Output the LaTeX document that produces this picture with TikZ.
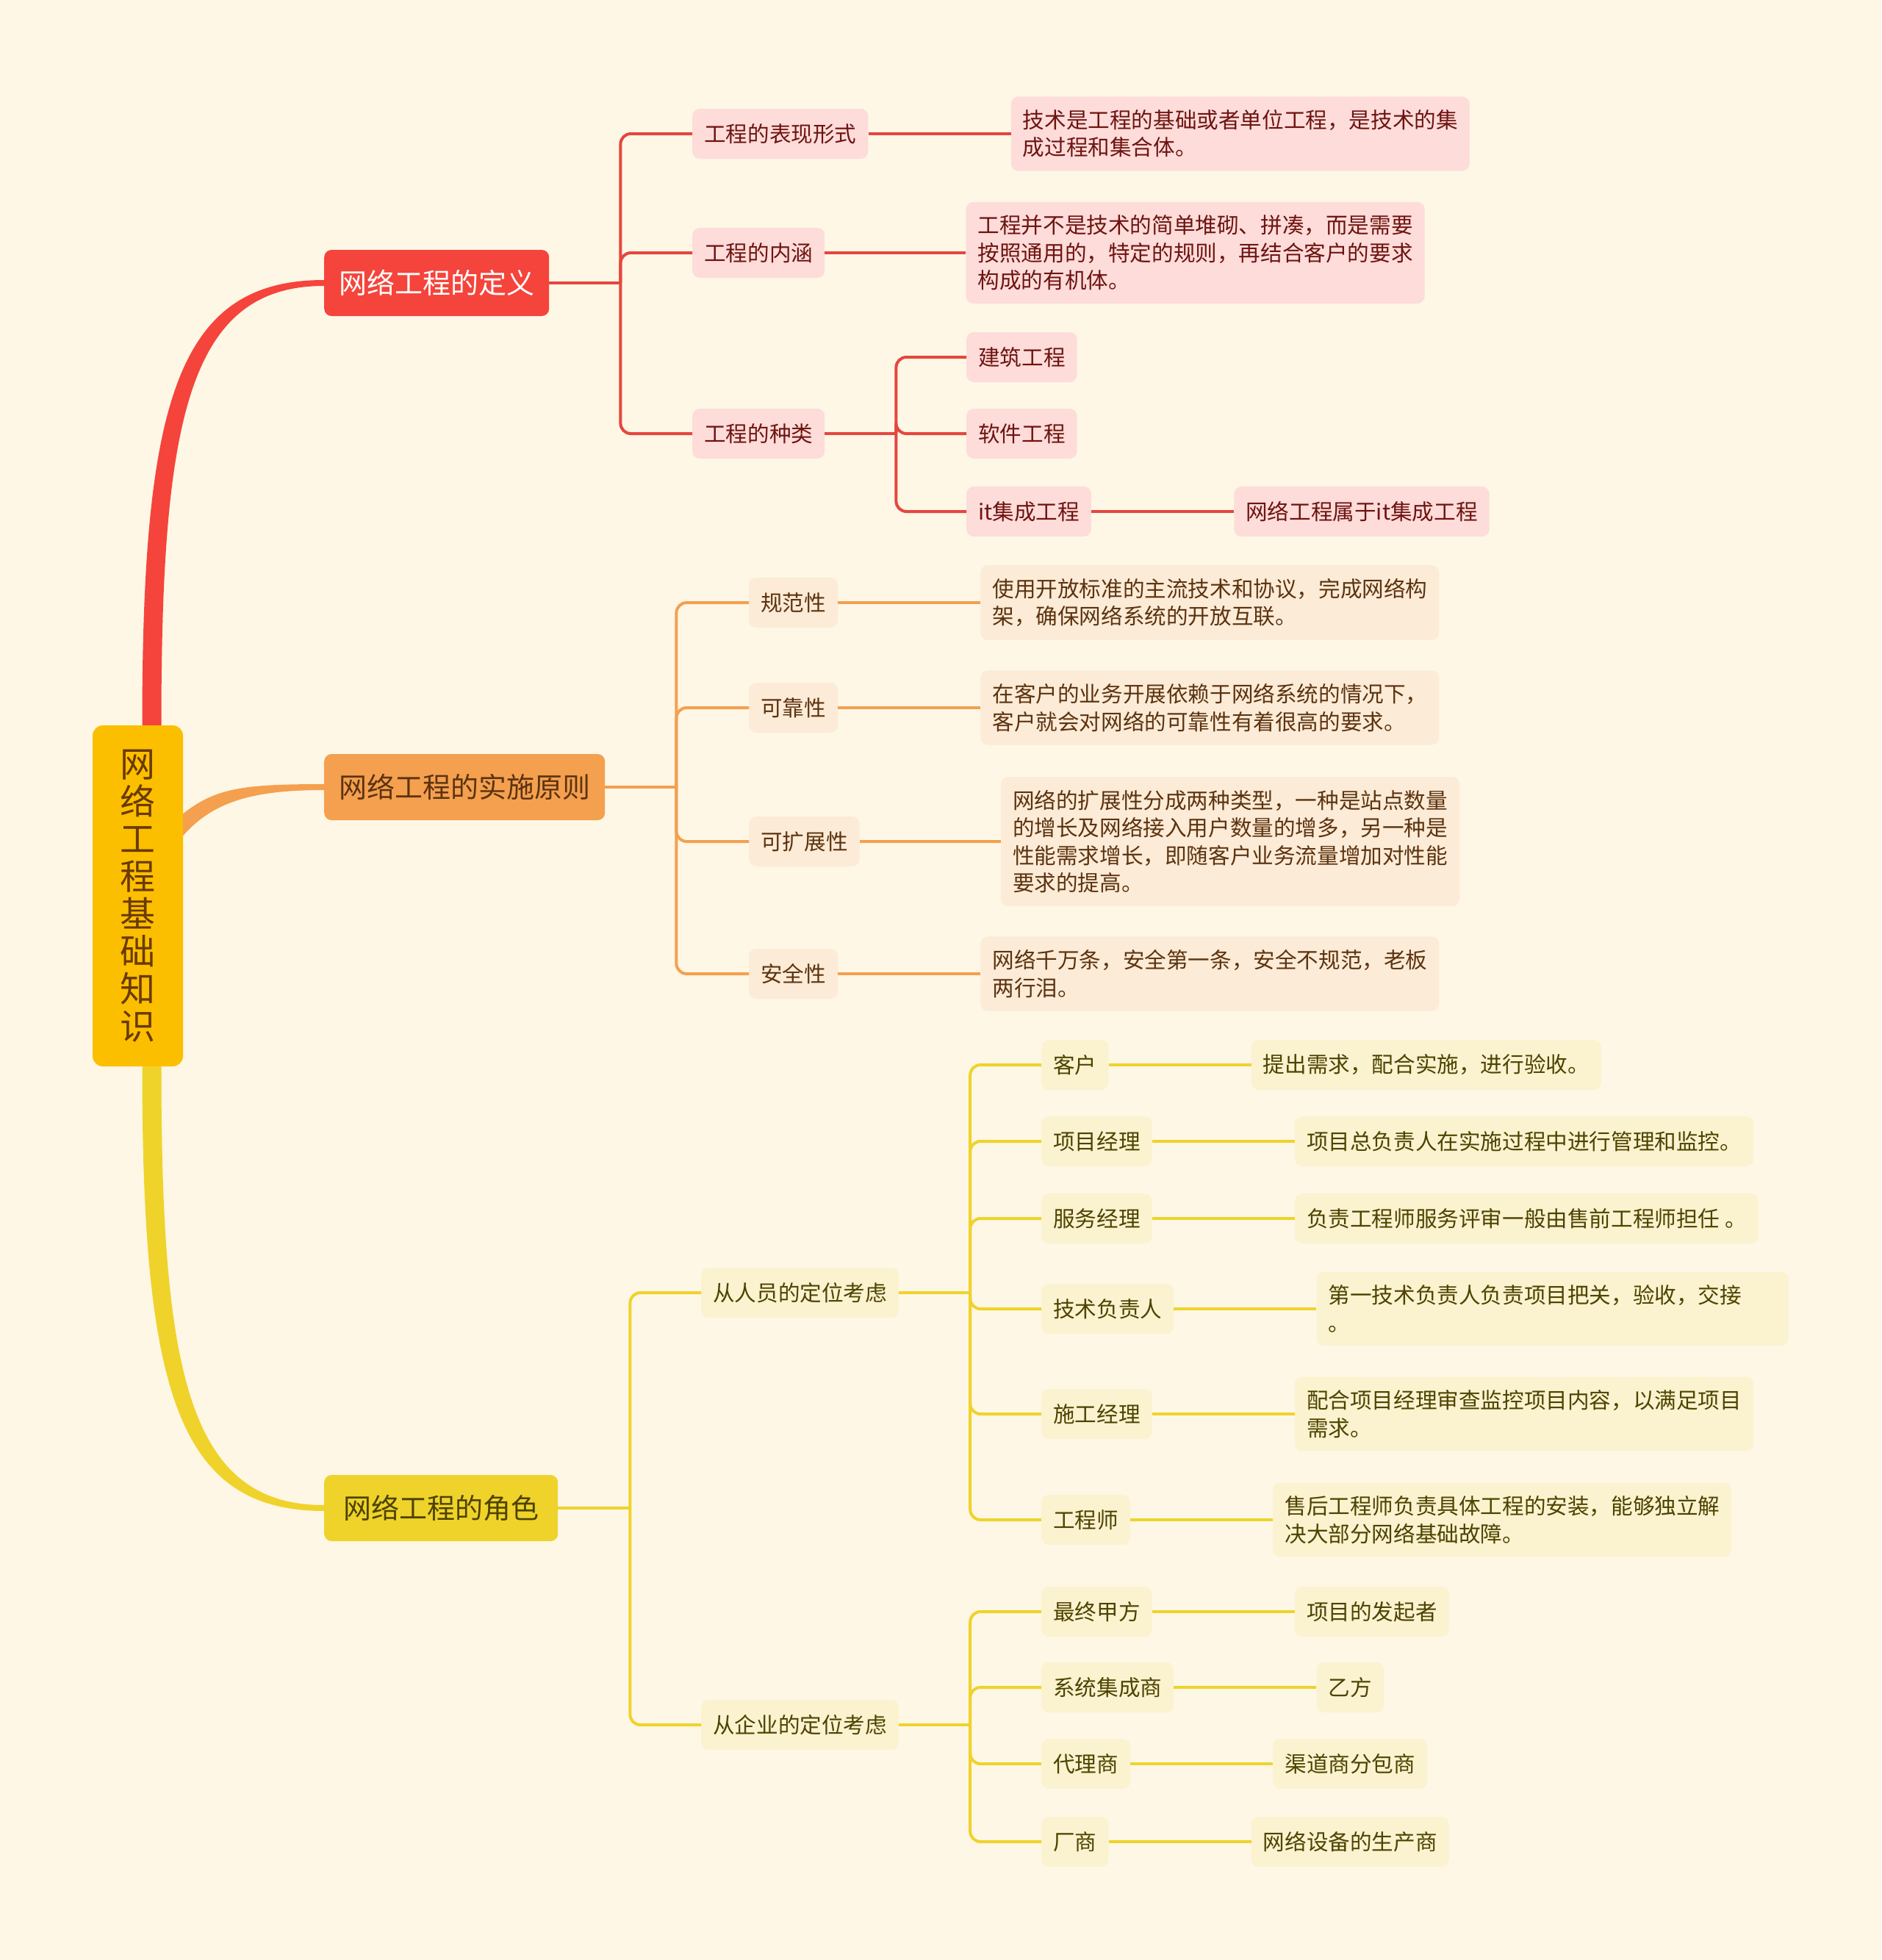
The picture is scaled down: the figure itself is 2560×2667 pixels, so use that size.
\documentclass[tikz,border=0pt]{standalone}
\usepackage{fontspec}
\setmainfont{Noto Sans CJK SC}
\usepackage{xcolor}
\usepackage{tikz}
\usetikzlibrary{positioning}
\definecolor{bgx}{HTML}{FEF7E6}
\definecolor{rootx}{HTML}{FBBF00}
\definecolor{roottxt}{HTML}{6A3A00}
\definecolor{redx}{HTML}{F5443B}
\definecolor{redln}{HTML}{E4473F}
\definecolor{redsoft}{HTML}{FDDCDA}
\definecolor{redtxt}{HTML}{6E1410}
\definecolor{orgx}{HTML}{F4A04F}
\definecolor{orgsoft}{HTML}{FCEBD6}
\definecolor{orgtxt}{HTML}{5C3310}
\definecolor{ylwx}{HTML}{EFD32B}
\definecolor{ylwsoft}{HTML}{FBF2CF}
\definecolor{ylwtxt}{HTML}{4D4300}
\tikzset{
  rootbox/.style={fill=rootx,text=roottxt,rounded corners=14pt,align=center,minimum width=123pt,minimum height=464pt,inner sep=0pt,font=\fontsize{48}{51}\selectfont},
  mainbox/.style={anchor=west,rounded corners=10pt,inner xsep=20pt,minimum height=90pt,font=\fontsize{38}{46}\selectfont},
  subbox/.style={rounded corners=10pt,inner xsep=16pt,inner ysep=18pt,minimum height=68pt,align=left,font=\fontsize{29.6}{37.4}\selectfont},
  redsub/.style={subbox,fill=redsoft,text=redtxt},
  orgsub/.style={subbox,fill=orgsoft,text=orgtxt},
  ylwsub/.style={subbox,fill=ylwsoft,text=ylwtxt},
  redlink/.style={draw=redln,line width=4pt,rounded corners=14pt},
  orglink/.style={draw=orgx,line width=4pt,rounded corners=14pt},
  ylwlink/.style={draw=ylwx,line width=4pt,rounded corners=14pt}
}

\begin{document}
\begin{tikzpicture}[x=1pt,y=-1pt]
\useasboundingbox (0,0) rectangle (2560,2667);
\fill[bgx] (0,0) rectangle (2560,2667);

% root and main branches
\node[rootbox] (root) at (187.5,1219) {网\\络\\工\\程\\基\\础\\知\\识};
\node[mainbox,fill=redx,text=white] (def) at (441,385) {网络工程的定义};
\node[mainbox,fill=orgx,text=orgtxt] (prin) at (441,1071) {网络工程的实施原则};
\node[mainbox,fill=ylwx,text=ylwtxt,minimum width=318pt,align=left] (role) at (441,2052) {网络工程的角色};

\fill[redx] ([xshift=6pt]root.north) .. controls +(0,-440) and +(-200,0) .. ([yshift=4pt]def.west)
  -- ([yshift=-4pt]def.west) .. controls +(-185,0) and +(0,-415) .. ([xshift=32pt]root.north) -- cycle;
\fill[orgx] ([yshift=112pt]root.east) .. controls +(45,-35) and +(-110,0) .. ([yshift=4pt]prin.west)
  -- ([yshift=-4pt]prin.west) .. controls +(-100,0) and +(40,-45) .. ([yshift=82pt]root.east) -- cycle;
\fill[ylwx] ([xshift=6pt]root.south) .. controls +(0,440) and +(-200,0) .. ([yshift=-4pt]role.west)
  -- ([yshift=4pt]role.west) .. controls +(-185,0) and +(0,415) .. ([xshift=32pt]root.south) -- cycle;

% definition
\node[redsub,anchor=west] (form) at (942,182) {工程的表现形式};
\node[redsub,anchor=west] (conn) at (942,344) {工程的内涵};
\node[redsub,anchor=west] (kind) at (942,590) {工程的种类};
\node[redsub,right=194pt of form] (formtxt) {技术是工程的基础或者单位工程，是技术的集\\成过程和集合体。};
\node[redsub,right=192pt of conn] (conntxt) {工程并不是技术的简单堆砌、拼凑，而是需要\\按照通用的，特定的规则，再结合客户的要求\\构成的有机体。};
\node[redsub,anchor=west] (build) at (1315,486) {建筑工程};
\node[redsub,anchor=west] (soft) at (1315,590) {软件工程};
\node[redsub,anchor=west] (itint) at (1315,696) {it集成工程};
\node[redsub,right=194pt of itint] (itnet) {网络工程属于it集成工程};

\draw[redlink] (def.east) -- ++(97,0);
\foreach \n in {form,conn,kind} \draw[redlink] ([xshift=97pt]def.east) |- (\n.west);
\draw[redlink] (form.east) -- (formtxt.west);
\draw[redlink] (conn.east) -- (conntxt.west);
\draw[redlink] (kind.east) -- ++(97,0);
\foreach \n in {build,soft,itint} \draw[redlink] ([xshift=97pt]kind.east) |- (\n.west);
\draw[redlink] (itint.east) -- (itnet.west);

% principles
\node[orgsub,anchor=west] (norm) at (1019,820) {规范性};
\node[orgsub,anchor=west] (rely) at (1019,963) {可靠性};
\node[orgsub,anchor=west] (scal) at (1019,1145) {可扩展性};
\node[orgsub,anchor=west] (safe) at (1019,1325) {安全性};
\node[orgsub,right=194pt of norm] (normtxt) {使用开放标准的主流技术和协议，完成网络构\\架，确保网络系统的开放互联。};
\node[orgsub,right=194pt of rely] (relytxt) {在客户的业务开展依赖于网络系统的情况下，\\客户就会对网络的可靠性有着很高的要求。};
\node[orgsub,right=192pt of scal] (scaltxt) {网络的扩展性分成两种类型，一种是站点数量\\的增长及网络接入用户数量的增多，另一种是\\性能需求增长，即随客户业务流量增加对性能\\要求的提高。};
\node[orgsub,right=194pt of safe] (safetxt) {网络千万条，安全第一条，安全不规范，老板\\两行泪。};

\draw[orglink] (prin.east) -- ++(97,0);
\foreach \n in {norm,rely,scal,safe} {
  \draw[orglink] ([xshift=97pt]prin.east) |- (\n.west);
  \draw[orglink] (\n.east) -- (\n txt.west);
}

% roles
\node[ylwsub,anchor=west] (staff) at (954,1759) {从人员的定位考虑};
\node[ylwsub,anchor=west] (firm) at (954,2347) {从企业的定位考虑};
\node[ylwsub,anchor=west] (client) at (1417,1449) {客户};
\node[ylwsub,anchor=west] (pm) at (1417,1553) {项目经理};
\node[ylwsub,anchor=west] (sm) at (1417,1658) {服务经理};
\node[ylwsub,anchor=west] (tech) at (1417,1781) {技术负责人};
\node[ylwsub,anchor=west] (cm) at (1417,1924) {施工经理};
\node[ylwsub,anchor=west] (eng) at (1417,2068) {工程师};
\node[ylwsub,right=194pt of client] (clienttxt) {提出需求，配合实施，进行验收。};
\node[ylwsub,right=194pt of pm] (pmtxt) {项目总负责人在实施过程中进行管理和监控。};
\node[ylwsub,right=194pt of sm] (smtxt) {负责工程师服务评审一般由售前工程师担任 。};
\node[ylwsub,right=194pt of tech,text width=610pt] (techtxt) {第一技术负责人负责项目把关，验收，交接\\。};
\node[ylwsub,right=194pt of cm] (cmtxt) {配合项目经理审查监控项目内容，以满足项目\\需求。};
\node[ylwsub,right=194pt of eng] (engtxt) {售后工程师负责具体工程的安装，能够独立解\\决大部分网络基础故障。};
\node[ylwsub,anchor=west] (owner) at (1417,2193) {最终甲方};
\node[ylwsub,anchor=west] (integ) at (1417,2296) {系统集成商};
\node[ylwsub,anchor=west] (agent) at (1417,2400) {代理商};
\node[ylwsub,anchor=west] (vendor) at (1417,2506) {厂商};
\node[ylwsub,right=194pt of owner] (ownertxt) {项目的发起者};
\node[ylwsub,right=194pt of integ] (integtxt) {乙方};
\node[ylwsub,right=194pt of agent] (agenttxt) {渠道商分包商};
\node[ylwsub,right=194pt of vendor] (vendortxt) {网络设备的生产商};

\draw[ylwlink] (role.east) -- ++(98,0);
\foreach \n in {staff,firm} \draw[ylwlink] ([xshift=98pt]role.east) |- (\n.west);
\draw[ylwlink] (staff.east) -- ++(97,0);
\foreach \n in {client,pm,sm,tech,cm,eng} {
  \draw[ylwlink] ([xshift=97pt]staff.east) |- (\n.west);
  \draw[ylwlink] (\n.east) -- (\n txt.west);
}
\draw[ylwlink] (firm.east) -- ++(97,0);
\foreach \n in {owner,integ,agent,vendor} {
  \draw[ylwlink] ([xshift=97pt]firm.east) |- (\n.west);
  \draw[ylwlink] (\n.east) -- (\n txt.west);
}
\end{tikzpicture}
\end{document}
